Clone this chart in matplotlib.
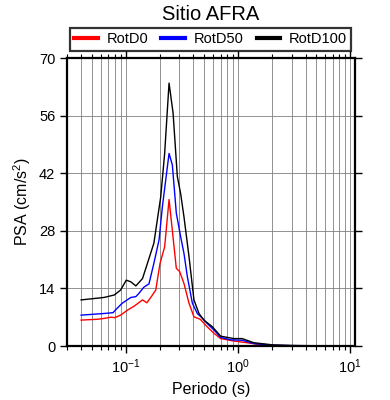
import matplotlib
matplotlib.use("Agg")
import matplotlib.pyplot as plt
from matplotlib.lines import Line2D
from matplotlib.ticker import LogLocator, FixedLocator, NullFormatter

plt.rcParams["font.family"] = ["Liberation Sans", "DejaVu Sans"]
plt.rcParams["mathtext.fontset"] = "custom"
plt.rcParams["mathtext.rm"] = "Liberation Sans"

# periods (s) and spectral accelerations (cm/s2)
period_d0 = [0.04, 0.056, 0.064, 0.074, 0.08, 0.09, 0.104, 0.119, 0.141, 0.154, 0.167,
             0.185, 0.202, 0.222, 0.243, 0.256, 0.282, 0.302, 0.33, 0.366, 0.405, 0.46,
             0.53, 0.61, 0.70, 0.92, 1.2, 1.6, 2.0, 3.0, 5.0, 10.0]
psa_d0 = [6.3, 6.5, 6.7, 7.0, 6.9, 7.5, 8.75, 9.7, 11.2, 10.5, 11.8,
          13.6, 20.1, 24.1, 35.6, 29.8, 18.9, 18.1, 15.2, 10.4, 7.1, 6.5,
          4.7, 3.1, 1.8, 1.2, 0.8, 0.3, 0.15, 0.08, 0.04, 0.02]

period_d50 = [0.04, 0.064, 0.077, 0.084, 0.093, 0.111, 0.123, 0.131, 0.145, 0.161, 0.178,
              0.198, 0.212, 0.243, 0.26, 0.282, 0.308, 0.33, 0.354, 0.392, 0.434, 0.48,
              0.53, 0.61, 0.70, 0.86, 1.09, 1.38, 2.0, 3.0, 5.0, 10.0]
psa_d50 = [7.5, 7.9, 8.1, 9.2, 10.4, 11.8, 12.0, 12.8, 14.3, 15.1, 20.1,
           25.8, 33.9, 46.8, 44.0, 32.3, 26.6, 22.5, 16.8, 10.4, 7.9, 6.8,
           5.5, 3.9, 2.1, 1.5, 1.4, 0.6, 0.2, 0.1, 0.05, 0.03]

period_d100 = [0.04, 0.064, 0.079, 0.09, 0.101, 0.111, 0.123, 0.141, 0.156, 0.178, 0.205,
               0.222, 0.243, 0.264, 0.288, 0.308, 0.33, 0.366, 0.405, 0.449, 0.496, 0.59,
               0.70, 0.80, 0.92, 1.09, 1.38, 2.07, 3.0, 5.0, 10.0]
psa_d100 = [11.2, 11.8, 12.4, 13.6, 16.0, 15.6, 14.6, 16.4, 20.1, 25.0, 36.3,
            46.8, 63.9, 56.6, 41.2, 37.1, 31.4, 21.7, 11.2, 7.9, 6.3, 4.7,
            2.4, 2.1, 1.8, 1.8, 0.8, 0.25, 0.12, 0.06, 0.03]

series = [("RotD0", period_d0, psa_d0, "#ff0000"),
          ("RotD50", period_d50, psa_d50, "#0000ff"),
          ("RotD100", period_d100, psa_d100, "#000000")]

fig = plt.figure(figsize=(3.9, 4.0), dpi=100)
ax = fig.add_axes([0.172, 0.135, 0.738, 0.72])

for name, per, psa, col in series:
    ax.plot(per, psa, color=col, linewidth=1.0)

ax.set_xscale("log")
ax.set_xlim(0.03, 11)
ax.set_ylim(0, 70)
ax.yaxis.set_major_locator(FixedLocator([0, 14, 28, 42, 56, 70]))
ax.xaxis.set_major_locator(LogLocator(base=10, numticks=10))
ax.xaxis.set_minor_locator(LogLocator(base=10, subs=range(2, 10), numticks=20))
ax.xaxis.set_minor_formatter(NullFormatter())

ax.grid(True, which="both", axis="x", color="#808080", linewidth=0.6)
ax.grid(True, which="major", axis="y", color="#808080", linewidth=0.6)

for s in ax.spines.values():
    s.set_linewidth(1.6)
ax.tick_params(which="both", direction="out", top=True, right=True, labelsize=10.5)
ax.tick_params(which="major", length=5, width=1.0)
ax.tick_params(which="minor", length=3, width=0.8)

ax.set_xlabel("Periodo (s)", fontsize=11.5)
ax.set_ylabel("PSA (cm/s$^2$)", fontsize=11.5)
fig.text(0.54, 0.963, "Sitio AFRA", ha="center", va="center", fontsize=14.5)

handles = [Line2D([], [], color=c, linewidth=3) for _, _, _, c in series]
leg = fig.legend(handles, [n for n, _, _, _ in series], ncol=3,
                 loc="center", bbox_to_anchor=(0.54, 0.902), fontsize=10.5,
                 frameon=True, fancybox=False, edgecolor="black",
                 handlelength=1.6, columnspacing=0.9, borderpad=0.3,
                 handletextpad=0.6, borderaxespad=0)
leg.get_frame().set_linewidth(1.6)

fig.savefig("out.png", dpi=100)
